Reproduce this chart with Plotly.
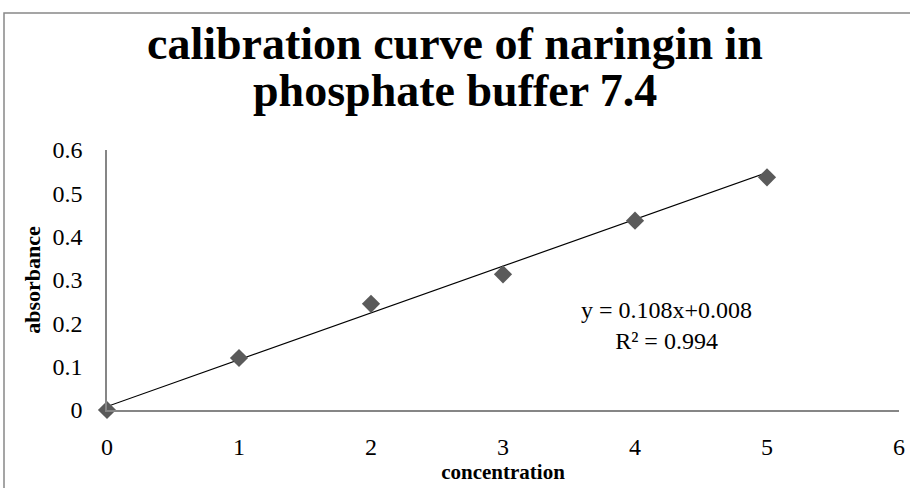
import plotly.graph_objects as go

concentration = [0, 1, 2, 3, 4, 5]
absorbance = [0, 0.12, 0.245, 0.313, 0.437, 0.537]
slope = 0.108
intercept = 0.008
r_squared = 0.994
x_ticks = [0, 1, 2, 3, 4, 5, 6]
y_ticks = [0, 0.1, 0.2, 0.3, 0.4, 0.5, 0.6]
title_lines = ["calibration curve of naringin in", "phosphate buffer 7.4"]

SERIF = "Liberation Serif, Times New Roman, serif"

L, R, T, B = 107, 11, 150, 78
W, H = 910, 488
PW, PH = W - L - R, H - T - B


def px_x(p):
    return (p - L) / PW


def px_y(p):
    return (H - B - p) / PH


trend_x = [concentration[0], concentration[-1]]
trend_y = [slope * v + intercept for v in trend_x]

fig = go.Figure()
fig.add_trace(go.Scatter(x=trend_x, y=trend_y, mode="lines",
                         line=dict(color="black", width=1.2), showlegend=False,
                         hoverinfo="skip", cliponaxis=False))
fig.add_trace(go.Scatter(x=concentration, y=absorbance, mode="markers",
                         marker=dict(symbol="diamond", size=14, color="#5a5a5a",
                                     line=dict(width=0)),
                         showlegend=False, cliponaxis=False))

fig.add_annotation(x=4.24, y=0.195, xref="x", yref="y",
                   text=f"y = {slope}x+{intercept}<br>R² = {r_squared}",
                   showarrow=False, align="center",
                   font=dict(family=SERIF, size=24, color="black"))

for line, py in zip(title_lines, [44, 91]):
    fig.add_annotation(x=px_x(455), y=px_y(py), xref="paper", yref="paper",
                       xanchor="center", yanchor="middle", showarrow=False,
                       text=f"<b>{line}</b>",
                       font=dict(family=SERIF, size=46, color="black"))

fig.update_layout(
    width=W, height=H,
    margin=dict(l=L, r=R, t=T, b=B, autoexpand=False),
    paper_bgcolor="white", plot_bgcolor="white",
    xaxis=dict(range=[0, 6], tickvals=x_ticks, showgrid=False, zeroline=False,
               showline=True, linecolor="#868686", linewidth=1.5,
               ticks="", ticklabelstandoff=14, automargin=False,
               tickfont=dict(family=SERIF, size=24, color="black"),
               title=dict(text="<b>concentration</b>", standoff=2,
                          font=dict(family=SERIF, size=21, color="black"))),
    yaxis=dict(range=[0, 0.6], tickvals=y_ticks, showgrid=False, zeroline=False,
               showline=True, linecolor="#868686", linewidth=1.5,
               ticks="", ticklabelstandoff=18, automargin=False,
               tickfont=dict(family=SERIF, size=24, color="black"),
               title=dict(text="<b>absorbance</b>", standoff=6,
                          font=dict(family=SERIF, size=22, color="black"))),
)

# outer chart border (right/bottom lie beyond the image)
fig.add_shape(type="rect", xref="paper", yref="paper",
              x0=px_x(4), x1=px_x(914), y0=px_y(492), y1=px_y(13),
              line=dict(color="#888888", width=1.5), layer="below")

fig.write_html("out.html",
               config={"displayModeBar": False},
               post_script="document.body.style.margin='0';"
                           "document.body.style.overflow='hidden';")
